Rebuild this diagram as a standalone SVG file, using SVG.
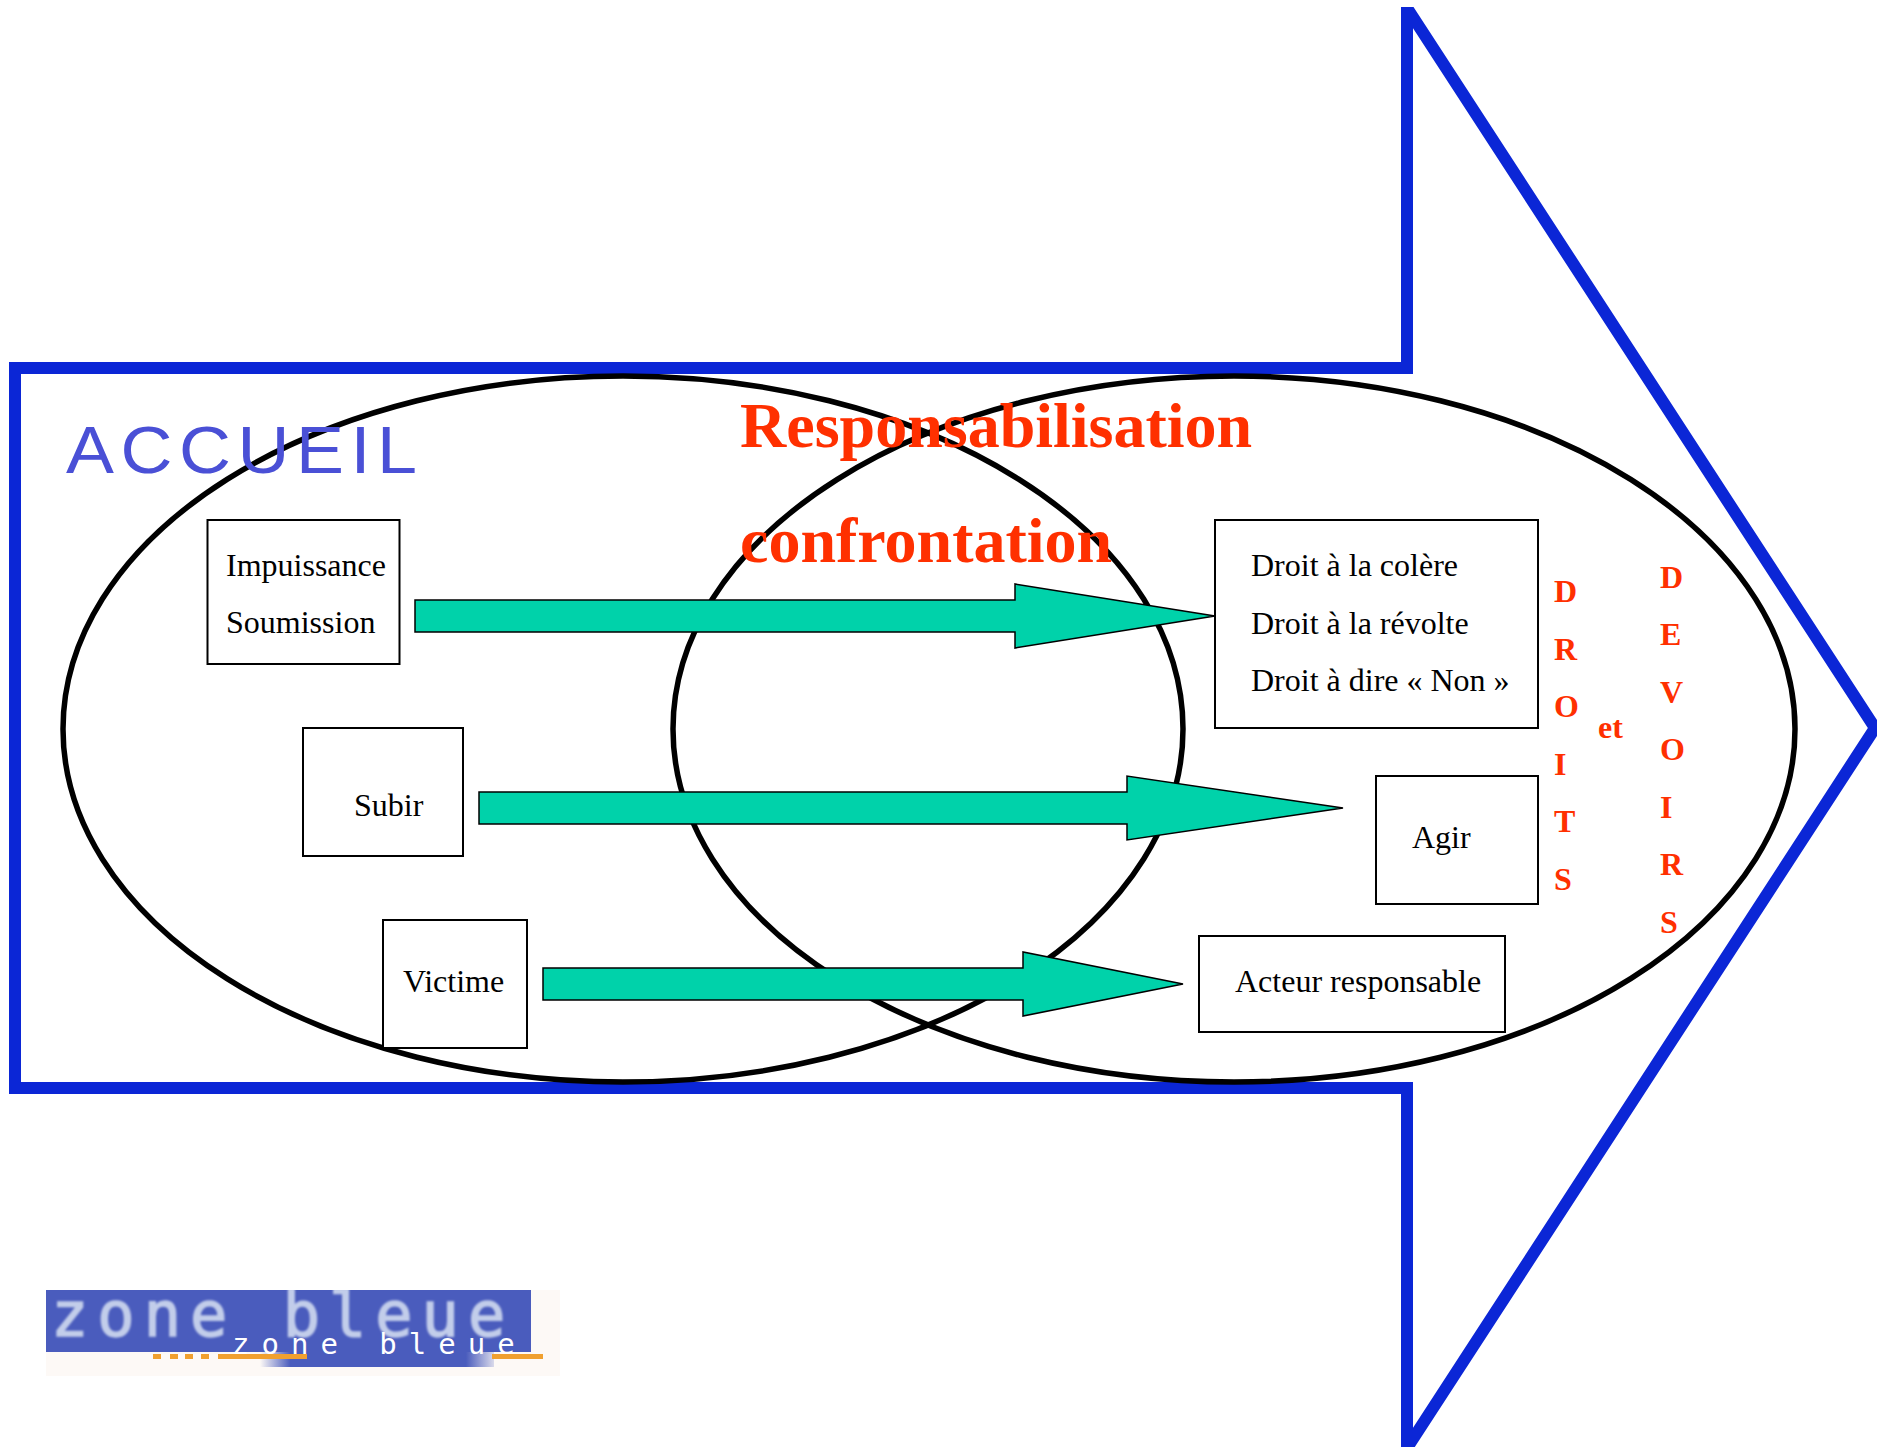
<svg xmlns="http://www.w3.org/2000/svg" width="1877" height="1447" viewBox="0 0 1877 1447">
<style>
.t{font-family:"Liberation Serif","Times New Roman",serif;font-size:32px;fill:#000}
.r{font-family:"Liberation Serif","Times New Roman",serif;font-size:32px;font-weight:bold;fill:#ff3000}
.h{font-family:"Liberation Serif","Times New Roman",serif;font-size:64px;font-weight:bold;fill:#ff3000}
.b{fill:#fff;stroke:#000;stroke-width:2}
.e{fill:none;stroke:#000;stroke-width:5.5}
.a{fill:#00d2aa;stroke:#000;stroke-width:1.5}
</style>
<defs>
<filter id="soft" x="-5%" y="-20%" width="110%" height="140%"><feGaussianBlur stdDeviation="1.3"/></filter>
<clipPath id="top"><rect x="0" y="7" width="1877" height="1440"/></clipPath>
<clipPath id="logoClip"><rect x="46" y="1290" width="485" height="62"/></clipPath>
<linearGradient id="band" x1="0" x2="1" y1="0" y2="0"><stop offset="0" stop-color="#4a5cbd" stop-opacity="0"/><stop offset=".13" stop-color="#4a5cbd"/><stop offset=".88" stop-color="#4a5cbd"/><stop offset="1" stop-color="#4a5cbd" stop-opacity=".2"/></linearGradient>
</defs>
<rect width="1877" height="1447" fill="#fff"/>
<g id="big-arrow" clip-path="url(#top)"><polygon points="15,368 1407,368 1407,8 1875,728 1407,1448 1407,1088 15,1088" fill="none" stroke="#0b26d6" stroke-width="12"/></g>
<g id="ellipses"><ellipse class="e" cx="623" cy="729" rx="560" ry="353"/><ellipse class="e" cx="1234" cy="729" rx="561" ry="353"/></g>
<g id="accueil"><text transform="translate(66,473) scale(1.09,1)" font-family="Liberation Sans,Arial,sans-serif" font-size="66" letter-spacing="6" fill="#4a50d6">ACCUEIL</text></g>
<g id="titre"><text class="h" x="740" y="447">Responsabilisation</text><text class="h" x="740" y="562">confrontation</text></g>
<g id="n1"><rect class="b" x="207.5" y="520" width="192" height="144"/><text class="t" x="226" y="576">Impuissance</text><text class="t" x="226" y="633">Soumission</text></g>
<g id="n2"><rect class="b" x="303" y="728" width="160" height="128"/><text class="t" x="354" y="816">Subir</text></g>
<g id="n3"><rect class="b" x="383" y="920" width="144" height="128"/><text class="t" x="403" y="992">Victime</text></g>
<g id="n4"><rect class="b" x="1215" y="520" width="323" height="208"/><text class="t" x="1251" y="576">Droit à la colère</text><text class="t" x="1251" y="634">Droit à la révolte</text><text class="t" x="1251" y="691">Droit à dire « Non »</text></g>
<g id="n5"><rect class="b" x="1376" y="776" width="162" height="128"/><text class="t" x="1412" y="848">Agir</text></g>
<g id="n6"><rect class="b" x="1199" y="936" width="306" height="96"/><text class="t" x="1235" y="992">Acteur responsable</text></g>
<g id="connectors">
<polygon class="a" points="415,600 1015,600 1015,584 1215,616 1015,648 1015,632 415,632"/>
<polygon class="a" points="479,792 1127,792 1127,776 1343,808 1127,840 1127,824 479,824"/>
<polygon class="a" points="543,968 1023,968 1023,952 1183,984 1023,1016 1023,1000 543,1000"/>
</g>
<g id="droits"><text class="r" x="1554" y="602">D</text><text class="r" x="1554" y="659.5">R</text><text class="r" x="1554" y="717">O</text><text class="r" x="1554" y="775">I</text><text class="r" x="1554" y="832">T</text><text class="r" x="1554" y="890">S</text></g>
<g id="et"><text class="r" x="1598" y="737.5">et</text></g>
<g id="devoirs"><text class="r" x="1660" y="587.5">D</text><text class="r" x="1660" y="645">E</text><text class="r" x="1660" y="702.5">V</text><text class="r" x="1660" y="760">O</text><text class="r" x="1660" y="818">I</text><text class="r" x="1660" y="875">R</text><text class="r" x="1660" y="933">S</text></g>
<g id="logo">
<rect x="46" y="1290" width="514" height="86" fill="#fdf9f6"/>
<rect x="46" y="1290" width="485" height="62" fill="#4a5cbd"/>
<rect x="260" y="1352" width="234" height="15" fill="url(#band)"/>
<g fill="#f0a030"><rect x="153" y="1354" width="8" height="5"/><rect x="170" y="1354" width="8" height="5"/><rect x="185" y="1354" width="8" height="5"/><rect x="201" y="1354" width="8" height="5"/><rect x="218" y="1354" width="89" height="5"/><rect x="492" y="1354" width="51" height="5"/></g>
<g clip-path="url(#logoClip)"><text x="51" y="1336" font-family="DejaVu Sans Mono,monospace" font-size="62" letter-spacing="9" fill="#c2cdea" stroke="#c2cdea" stroke-width="1.5" filter="url(#soft)">zone bleue</text></g>
<text x="232" y="1354" font-family="DejaVu Sans Mono,monospace" font-size="29" letter-spacing="12" fill="#fff">zone bleue</text>
</g>
</svg>
